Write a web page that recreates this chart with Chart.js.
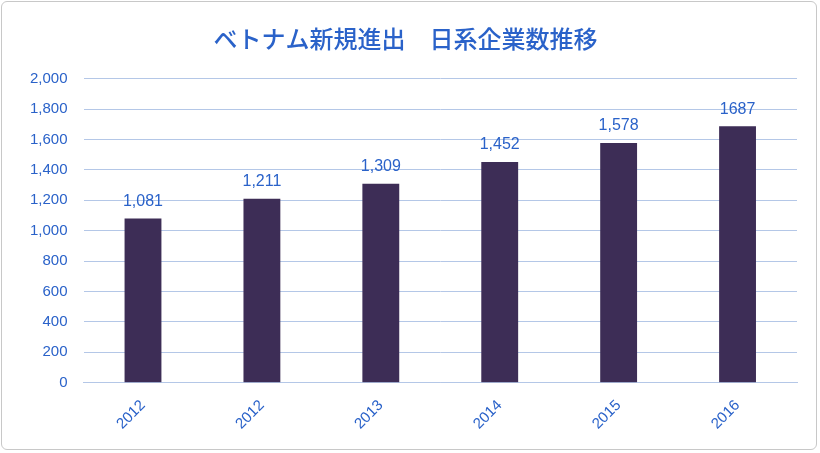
<!DOCTYPE html>
<html>
<head>
<meta charset="utf-8">
<script src="https://cdn.jsdelivr.net/npm/chart.js@4/dist/chart.umd.min.js"></script>
<style>
  html, body { margin: 0; padding: 0; background: #fff; }
  #wrap {
    position: absolute; left: 1px; top: 1px; width: 816px; height: 449px;
    border: 1px solid #c8c8c8; border-radius: 6px; box-sizing: border-box;
  }
</style>
</head>
<body>
<div id="wrap"><canvas id="c"></canvas></div>
<script>
const CATEGORIES = ["2012", "2012", "2013", "2014", "2015", "2016"];
const COMPANIES = [1081, 1211, 1309, 1452, 1578, 1687];
const VALUE_LABELS = ["1,081", "1,211", "1,309", "1,452", "1,578", "1687"];
const TITLE = "ベトナム新規進出　日系企業数推移";

const BLUE = '#2a62c9';
const FONT = "'Liberation Sans', Arial, sans-serif";

// Draw the value above each bar
const valueLabels = {
  id: 'valueLabels',
  afterDatasetsDraw(chart) {
    const ctx = chart.ctx;
    const meta = chart.getDatasetMeta(0);
    ctx.save();
    ctx.fillStyle = BLUE;
    ctx.font = "16px " + FONT;
    ctx.textAlign = 'center';
    ctx.textBaseline = 'bottom';
    meta.data.forEach((bar, i) => {
      ctx.fillText(VALUE_LABELS[i], bar.x, bar.y - 9);
    });
    ctx.restore();
  }
};

new Chart(document.getElementById('c'), {
  type: 'bar',
  data: {
    labels: CATEGORIES,
    datasets: [{
      data: COMPANIES,
      backgroundColor: '#3d2d56',
      categoryPercentage: 1,
      barPercentage: 0.31
    }]
  },
  options: {
    animation: false,
    responsive: true,
    maintainAspectRatio: false,
    layout: { padding: { left: 12, right: 19, top: 4, bottom: 10 } },
    scales: {
      x: {
        grid: { display: false },
        border: { color: '#b4c7e7' },
        ticks: {
          color: BLUE, maxRotation: 45, minRotation: 45, padding: 6,
          font: { family: FONT, size: 15 }
        }
      },
      y: {
        min: 0, max: 2000,
        ticks: {
          stepSize: 200, color: BLUE, padding: 16,
          font: { family: FONT, size: 15 },
          callback: v => v.toLocaleString('en-US')
        },
        grid: { color: '#b4c7e7', drawTicks: false },
        border: { display: false }
      }
    },
    plugins: {
      legend: { display: false },
      tooltip: { enabled: false },
      title: {
        display: true, text: TITLE, color: BLUE,
        font: { family: "'Noto Sans CJK JP', sans-serif", size: 24, weight: 500 },
        padding: { top: 18, bottom: 26 }
      }
    }
  },
  plugins: [valueLabels]
});
</script>
</body>
</html>
